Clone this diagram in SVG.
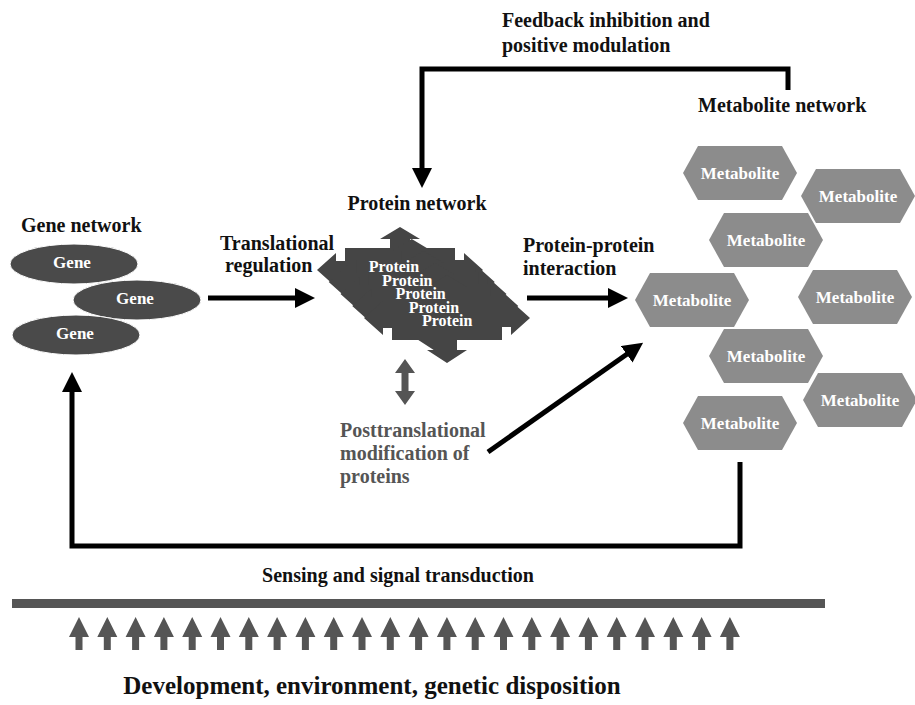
<svg xmlns="http://www.w3.org/2000/svg" xmlns:xlink="http://www.w3.org/1999/xlink" width="915" height="705" viewBox="0 0 915 705">
<style>
.lbl{font-family:"Liberation Serif","Times New Roman",serif;font-weight:bold;font-size:20px;fill:#111}
.in{font-family:"Liberation Serif","Times New Roman",serif;font-weight:bold;font-size:17px;fill:#fff;text-anchor:middle}
.pt{font-size:16px}
.gray{fill:#555}
.conn{fill:none;stroke:#000;stroke-width:5;marker-end:url(#ah)}
.gene{fill:#4a4a4a;stroke:#fff;stroke-width:1}
.met{fill:#8c8c8c}
.prot{fill:#454545}
</style>
<defs>
<marker id="ah" markerUnits="userSpaceOnUse" markerWidth="22" markerHeight="22" refX="4" refY="10" orient="auto">
<path d="M0,0 L20,10 L0,20 Z" fill="#000"/>
</marker>
<path id="hex" d="M-57,0 L-42,-27 L42,-27 L57,0 L42,27 L-42,27 Z"/>
<path id="pshape" d="M-55,-22 H55 V-9 H64 V-17 L83,0 L64,17 V9 H55 V22 H10 V32 H20 L0,45 L-20,32 H-10 V22 H-55 V9 H-64 V17 L-83,0 L-64,-17 V-9 H-55 Z M-10,-22 V-31 H-20 L0,-43 L20,-31 H10 V-22 Z"/>
<path id="ua" d="M0,0 L10,20 L3.5,20 L3.5,33 L-3.5,33 L-3.5,20 L-10,20 Z" fill="#555"/>
</defs>

<g id="connectors">
<path class="conn" d="M788,90 V69 H422 V172"/>
<path class="conn" d="M208,298 H299"/>
<path class="conn" d="M527,298 H612"/>
<path class="conn" d="M488,452 L630,352"/>
<path class="conn" d="M740,462 V546 H72 V388"/>
<polygon class="gray" points="405,359 415,373 408.5,373 408.5,391 415,391 405,405 395,391 401.5,391 401.5,373 395,373"/>
</g>

<g id="labels">
<text class="lbl" x="502" y="27">Feedback inhibition and</text>
<text class="lbl" x="502" y="52">positive modulation</text>
<text class="lbl" x="698" y="112">Metabolite network</text>
<text class="lbl" x="417" y="210" text-anchor="middle">Protein network</text>
<text class="lbl" x="21" y="232">Gene network</text>
<text class="lbl" x="220" y="250">Translational</text>
<text class="lbl" x="225" y="272">regulation</text>
<text class="lbl" x="523" y="252">Protein-protein</text>
<text class="lbl" x="523" y="275">interaction</text>
<text class="lbl gray" x="340" y="437">Posttranslational</text>
<text class="lbl gray" x="340" y="460">modification of</text>
<text class="lbl gray" x="340" y="483">proteins</text>
<text class="lbl" x="398" y="582" text-anchor="middle">Sensing and signal transduction</text>
</g>

<g id="gene-network">
<ellipse class="gene" cx="74" cy="264" rx="64" ry="20"/>
<ellipse class="gene" cx="137" cy="300" rx="64" ry="20"/>
<ellipse class="gene" cx="76" cy="335" rx="64" ry="20"/>
<text class="in" x="72" y="268">Gene</text>
<text class="in" x="135" y="304">Gene</text>
<text class="in" x="75" y="339">Gene</text>
</g>

<g id="protein-network">
<use href="#pshape" class="prot" transform="translate(400,270)"/>
<use href="#pshape" class="prot" transform="translate(411.75,282)"/>
<use href="#pshape" class="prot" transform="translate(423.5,294)"/>
<use href="#pshape" class="prot" transform="translate(435.25,306)"/>
<use href="#pshape" class="prot" transform="translate(447,318)"/>
<text class="in pt" x="394" y="272">Protein</text>
<text class="in pt" x="407.3" y="285.5">Protein</text>
<text class="in pt" x="420.6" y="299">Protein</text>
<text class="in pt" x="433.9" y="312.5">Protein</text>
<text class="in pt" x="447.2" y="326">Protein</text>
</g>

<g id="metabolite-network">
<use href="#hex" class="met" x="740" y="173"/>
<use href="#hex" class="met" x="858" y="196"/>
<use href="#hex" class="met" x="766" y="240"/>
<use href="#hex" class="met" x="692" y="300"/>
<use href="#hex" class="met" x="855" y="297"/>
<use href="#hex" class="met" x="766" y="356"/>
<use href="#hex" class="met" x="860" y="400"/>
<use href="#hex" class="met" x="740" y="423"/>
<text class="in" x="740" y="179">Metabolite</text>
<text class="in" x="858" y="202">Metabolite</text>
<text class="in" x="766" y="246">Metabolite</text>
<text class="in" x="692" y="306">Metabolite</text>
<text class="in" x="855" y="303">Metabolite</text>
<text class="in" x="766" y="362">Metabolite</text>
<text class="in" x="860" y="406">Metabolite</text>
<text class="in" x="740" y="429">Metabolite</text>
</g>

<g id="environment">
<rect x="12" y="599" width="813" height="9" fill="#555"/>
<use href="#ua" x="79" y="617"/>
<use href="#ua" x="107.3" y="617"/>
<use href="#ua" x="135.6" y="617"/>
<use href="#ua" x="163.9" y="617"/>
<use href="#ua" x="192.2" y="617"/>
<use href="#ua" x="220.5" y="617"/>
<use href="#ua" x="248.8" y="617"/>
<use href="#ua" x="277.1" y="617"/>
<use href="#ua" x="305.4" y="617"/>
<use href="#ua" x="333.7" y="617"/>
<use href="#ua" x="362" y="617"/>
<use href="#ua" x="390.3" y="617"/>
<use href="#ua" x="418.6" y="617"/>
<use href="#ua" x="446.9" y="617"/>
<use href="#ua" x="475.2" y="617"/>
<use href="#ua" x="503.5" y="617"/>
<use href="#ua" x="531.8" y="617"/>
<use href="#ua" x="560.1" y="617"/>
<use href="#ua" x="588.4" y="617"/>
<use href="#ua" x="616.7" y="617"/>
<use href="#ua" x="645" y="617"/>
<use href="#ua" x="673.3" y="617"/>
<use href="#ua" x="701.6" y="617"/>
<use href="#ua" x="729.9" y="617"/>
<text class="lbl" x="372" y="694" text-anchor="middle" style="font-size:25px">Development, environment, genetic disposition</text>
</g>
</svg>
